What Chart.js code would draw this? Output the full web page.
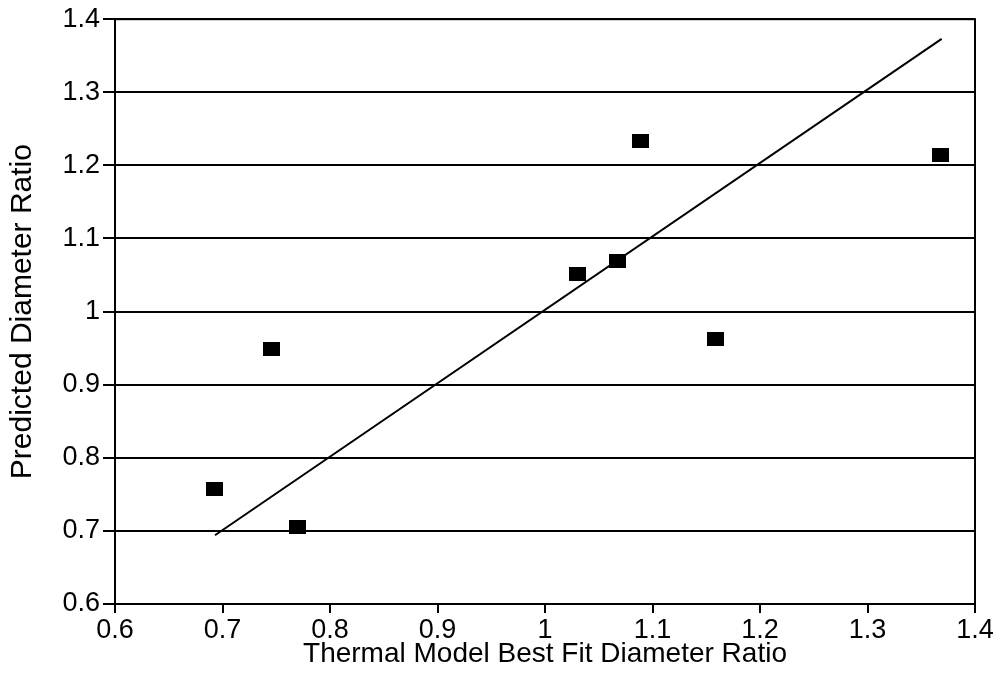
<!DOCTYPE html>
<html>
<head>
<meta charset="utf-8">
<script src="https://cdn.jsdelivr.net/npm/chart.js@4/dist/chart.umd.min.js"></script>
<style>
  html, body { margin: 0; padding: 0; background: #fff; }
  #wrap { width: 1000px; height: 680px; }
</style>
</head>
<body>
<div id="wrap"><canvas id="ratioChart" width="1000" height="680"></canvas></div>
<script>
// measured points (thermal model best fit vs predicted)
const bestFitX = [0.693, 0.746, 0.770, 1.030, 1.067, 1.089, 1.159, 1.368];
const predictedY = [0.757, 0.949, 0.706, 1.051, 1.069, 1.234, 0.962, 1.214];

// fitted trend line end points
const fitX = [0.693, 1.369];
const fitY = [0.694, 1.373];

// axis ticks
const xTicks = [0.6, 0.7, 0.8, 0.9, 1, 1.1, 1.2, 1.3, 1.4];
const yTicks = [0.6, 0.7, 0.8, 0.9, 1, 1.1, 1.2, 1.3, 1.4];

const FONT = 'Arial, "Liberation Sans", Helvetica, sans-serif';

const scatterData = bestFitX.map((x, i) => ({ x: x, y: predictedY[i] }));
const lineData = fitX.map((x, i) => ({ x: x, y: fitY[i] }));

// marker: a filled black box a bit wider than tall
const marker = document.createElement('canvas');
marker.width = 17;
marker.height = 14;
const mctx = marker.getContext('2d');
mctx.fillStyle = '#000';
mctx.fillRect(0, 0, 17, 14);

// draws the black frame round the plot area
const frame = {
  id: 'frame',
  afterDatasetsDraw(chart) {
    const a = chart.chartArea;
    const c = chart.ctx;
    c.save();
    c.strokeStyle = '#000';
    c.lineWidth = 2;
    c.strokeRect(a.left, a.top, a.right - a.left, a.bottom - a.top);
    c.restore();
  }
};

const ctx = document.getElementById('ratioChart').getContext('2d');
const chart = new Chart(ctx, {
  type: 'scatter',
  data: {
    datasets: [
      {
        label: 'Data',
        data: scatterData,
        pointStyle: marker,
        pointRadius: 9,
        pointHoverRadius: 9,
        backgroundColor: '#000',
        borderColor: '#000',
        borderWidth: 0
      },
      {
        label: 'Fit',
        type: 'line',
        data: lineData,
        showLine: true,
        pointRadius: 0,
        borderColor: '#000',
        borderWidth: 2,
        fill: false
      }
    ]
  },
  options: {
    responsive: false,
    animation: false,
    layout: { padding: { top: 18, right: 25, left: 0, bottom: 0 } },
    plugins: {
      legend: { display: false },
      tooltip: { enabled: false }
    },
    scales: {
      x: {
        type: 'linear',
        min: 0.6,
        max: 1.4,
        afterBuildTicks: s => { s.ticks = xTicks.map(v => ({ value: v })); },
        afterFit: s => { s.height = 76; },
        grid: { drawOnChartArea: false, drawTicks: true, tickLength: 9, color: '#000', lineWidth: 2 },
        border: { color: '#000', width: 2 },
        ticks: {
          color: '#000',
          font: { family: FONT, size: 27 },
          padding: 1,
          maxRotation: 0,
          callback: v => String(v)
        },
        title: {
          display: true,
          text: 'Thermal Model Best Fit Diameter Ratio',
          color: '#000',
          font: { family: FONT, size: 28 },
          padding: { top: 0, bottom: 9 }
        }
      },
      y: {
        type: 'linear',
        min: 0.6,
        max: 1.4,
        afterBuildTicks: s => { s.ticks = yTicks.map(v => ({ value: v })); },
        afterFit: s => { s.width = 115; },
        grid: { drawOnChartArea: true, drawTicks: true, tickLength: 12, color: '#000', lineWidth: 2 },
        border: { color: '#000', width: 2 },
        ticks: {
          color: '#000',
          font: { family: FONT, size: 27 },
          padding: 3,
          callback: v => String(v)
        },
        title: {
          display: true,
          text: 'Predicted Diameter Ratio',
          color: '#000',
          font: { family: FONT, size: 30 },
          padding: { top: 5, bottom: 0 }
        }
      }
    }
  },
  plugins: [frame]
});
</script>
</body>
</html>
